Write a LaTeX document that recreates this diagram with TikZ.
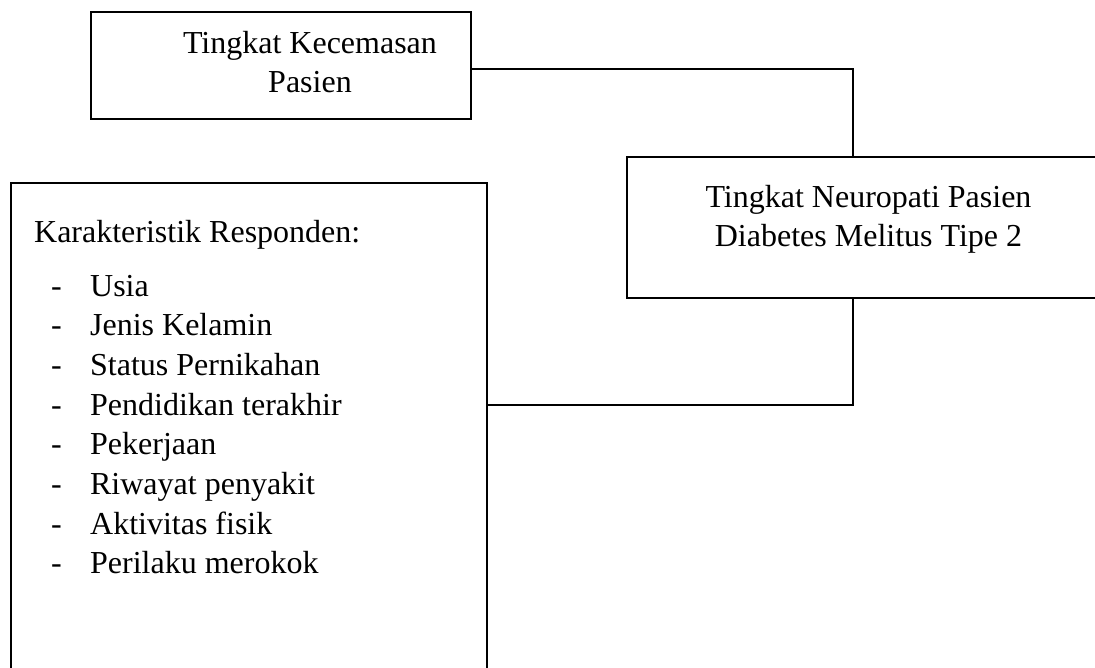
\documentclass[tikz,border=0pt]{standalone}
\usepackage{fontspec}
\setmainfont{Liberation Serif}
\begin{document}
\begin{tikzpicture}[x=1pt,y=-1pt,line width=2.3pt,
  kotak/.style={draw, rectangle, inner sep=0pt},
  teks/.style={inner sep=0pt, font=\fontsize{32}{39}\selectfont, align=center}]
\useasboundingbox (0,0) rectangle (1095,667);
\clip (0,0) rectangle (1095,667);
% kotak-kotak
\node[kotak, minimum width=380pt, minimum height=107pt] (cemas) at (281,65.5){};
\node[kotak, minimum width=483pt, minimum height=141pt] (neuro) at (868.5,227.5){};
\node[kotak, minimum width=476pt, minimum height=517pt] (karakter) at (249,441.5){};
% teks (base = baris terakhir)
\node[teks, anchor=base] (cemasteks) at (310,92){Tingkat Kecemasan\\Pasien};
\node[teks, anchor=base] (neuroteks) at (868.5,246){Tingkat Neuropati Pasien\\Diabetes Melitus Tipe 2};
\node[teks, anchor=base west] (judul) at (33,242){Karakteristik Responden:};
\foreach \isi [count=\i from 0] in {Usia, Jenis Kelamin, Status Pernikahan, Pendidikan terakhir, Pekerjaan, Riwayat penyakit, Aktivitas fisik, Perilaku merokok}{
  \node[teks, anchor=base west] (strip\i) at (50,{296+39.7*\i}){-};
  \node[teks, anchor=base west] (item\i) at (89,{296+39.7*\i}){\isi};
}
% garis
\draw ([yshift=-3.5pt]cemas.east) -| ([xshift=-15.5pt]neuro.north);
\draw ([xshift=-15.5pt]neuro.south) |- ([yshift=36.5pt]karakter.east);
\end{tikzpicture}
\end{document}
